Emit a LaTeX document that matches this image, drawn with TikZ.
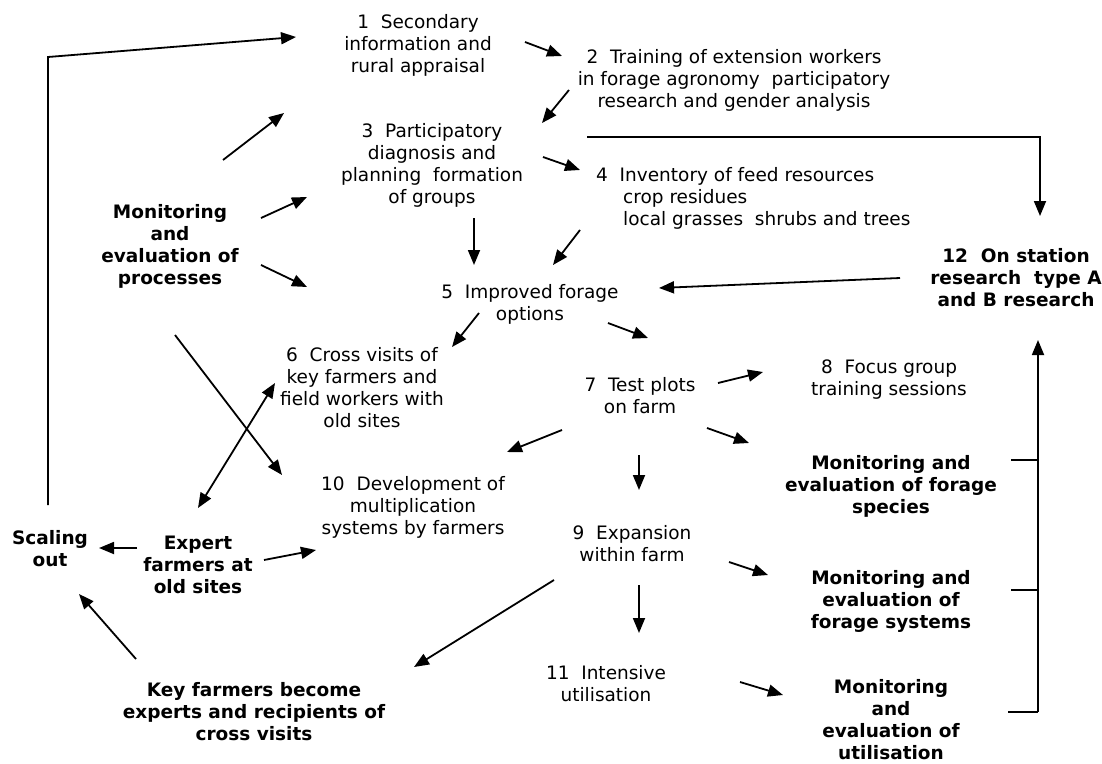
\documentclass[tikz,border=0pt]{standalone}
\usepackage{fontspec}
\setmainfont{DejaVu Sans}
\usetikzlibrary{arrows.meta}
\begin{document}
\begin{tikzpicture}[x=1pt,y=-1pt,
  lbl/.style={align=center, inner sep=0pt, font=\fontsize{18.5}{22}\selectfont},
  blbl/.style={align=center, inner sep=0pt, font=\fontsize{18.5}{22}\selectfont\bfseries},
  arr/.style={line width=1.8pt, -{Triangle[length=15pt,width=12pt]}},
  darr/.style={line width=1.8pt, {Triangle[length=15pt,width=12pt]}-{Triangle[length=15pt,width=12pt]}},
  ln/.style={line width=1.8pt}]
\path[use as bounding box, fill=white] (0,0) rectangle (1102,763);
% nodes
\node[lbl] (n1) at (418,45) {1~~Secondary\\information and\\rural appraisal};
\node[lbl] (n2) at (734,80) {2~~Training of extension workers\\in forage agronomy~~participatory\\research and gender analysis};
\node[lbl] (n3) at (432,165) {3~~Participatory\\diagnosis and\\planning~~formation\\of groups};
\node[lbl, align=left, anchor=west] (n4) at (596,198) {4~~Inventory of feed resources\\\hspace*{27pt}crop residues\\\hspace*{27pt}local grasses~~shrubs and trees};
\node[blbl] (mp) at (170,246) {Monitoring\\and\\evaluation of\\processes};
\node[lbl] (n5) at (530,304) {5~~Improved forage\\options};
\node[blbl] (n12) at (1016,278) {12~~On station\\research~~type A\\and B research};
\node[lbl] (n6) at (362,388) {6~~Cross visits of\\key farmers and\\field workers with\\old sites};
\node[lbl] (n7) at (640,396) {7~~Test plots\\on farm};
\node[lbl] (n8) at (889,380) {8~~Focus group\\training sessions};
\node[blbl] (ms) at (891,486) {Monitoring and\\evaluation of forage\\species};
\node[lbl] (n10) at (413,507) {10~~Development of\\multiplication\\systems by farmers};
\node[blbl] (so) at (50,549) {Scaling\\out};
\node[blbl] (ex) at (198,565) {Expert\\farmers at\\old sites};
\node[lbl] (n9) at (632,544) {9~~Expansion\\within farm};
\node[blbl] (mf) at (891,601) {Monitoring and\\evaluation of\\forage systems};
\node[lbl] (n11) at (606,684) {11~~Intensive\\utilisation};
\node[blbl] (kf) at (254,712) {Key farmers become\\experts and recipients of\\cross visits};
\node[blbl] (mu) at (891,720) {Monitoring\\and\\evaluation of\\utilisation};
% connector end points
\coordinate (soA) at (48,505); \coordinate (soB) at (48,57); \coordinate (soC) at (296,37);
\coordinate (a12s) at (525,42); \coordinate (a12e) at (562,56);
\coordinate (a23s) at (569,90); \coordinate (a23e) at (542,123);
\coordinate (am1s) at (223,160); \coordinate (am1e) at (284,113);
\coordinate (am3s) at (261,218); \coordinate (am3e) at (307,197);
\coordinate (am5s) at (261,265); \coordinate (am5e) at (307,287);
\coordinate (a35s) at (474,218); \coordinate (a35e) at (474,265);
\coordinate (a34s) at (543,157); \coordinate (a34e) at (580,170);
\coordinate (a45s) at (580,230); \coordinate (a45e) at (553,265);
\coordinate (rA) at (587,137); \coordinate (rB) at (1040,137); \coordinate (rC) at (1040,216);
\coordinate (a125s) at (900,278); \coordinate (a125e) at (659,288);
\coordinate (a56s) at (479,313); \coordinate (a56e) at (452,347);
\coordinate (a57s) at (608,323); \coordinate (a57e) at (648,338);
\coordinate (a78s) at (718,383); \coordinate (a78e) at (763,372);
\coordinate (a7ms) at (707,428); \coordinate (a7me) at (749,443);
\coordinate (a79s) at (639,455); \coordinate (a79e) at (639,490);
\coordinate (a710s) at (562,430); \coordinate (a710e) at (507,452);
\coordinate (am10s) at (175,335); \coordinate (am10e) at (282,475);
\coordinate (ax6s) at (198,508); \coordinate (ax6e) at (275,383);
\coordinate (axss) at (137,548); \coordinate (axse) at (99,548);
\coordinate (ax10s) at (264,560); \coordinate (ax10e) at (316,550);
\coordinate (aksos) at (136,659); \coordinate (aksoe) at (79,594);
\coordinate (a9ks) at (554,580); \coordinate (a9ke) at (414,667);
\coordinate (a9fs) at (729,562); \coordinate (a9fe) at (768,575);
\coordinate (a911s) at (639,585); \coordinate (a911e) at (639,633);
\coordinate (a11us) at (740,682); \coordinate (a11ue) at (783,695);
\coordinate (bBot) at (1038,712); \coordinate (bTop) at (1038,340);
\coordinate (t1a) at (1011,460); \coordinate (t1b) at (1038,460);
\coordinate (t2a) at (1011,590); \coordinate (t2b) at (1038,590);
\coordinate (t3a) at (1008,712);
% connectors
\draw[arr] (soA) -- (soB) -- (soC);
\draw[arr] (a12s) -- (a12e);
\draw[arr] (a23s) -- (a23e);
\draw[arr] (am1s) -- (am1e);
\draw[arr] (am3s) -- (am3e);
\draw[arr] (am5s) -- (am5e);
\draw[arr] (a35s) -- (a35e);
\draw[arr] (a34s) -- (a34e);
\draw[arr] (a45s) -- (a45e);
\draw[arr] (rA) -- (rB) -- (rC);
\draw[arr] (a125s) -- (a125e);
\draw[arr] (a56s) -- (a56e);
\draw[arr] (a57s) -- (a57e);
\draw[arr] (a78s) -- (a78e);
\draw[arr] (a7ms) -- (a7me);
\draw[arr] (a79s) -- (a79e);
\draw[arr] (a710s) -- (a710e);
\draw[arr] (am10s) -- (am10e);
\draw[darr] (ax6s) -- (ax6e);
\draw[arr] (axss) -- (axse);
\draw[arr] (ax10s) -- (ax10e);
\draw[arr] (aksos) -- (aksoe);
\draw[arr] (a9ks) -- (a9ke);
\draw[arr] (a9fs) -- (a9fe);
\draw[arr] (a911s) -- (a911e);
\draw[arr] (a11us) -- (a11ue);
\draw[arr] (bBot) -- (bTop);
\draw[ln] (t1a) -- (t1b);
\draw[ln] (t2a) -- (t2b);
\draw[ln] (t3a) -- (bBot);
\end{tikzpicture}
\end{document}
